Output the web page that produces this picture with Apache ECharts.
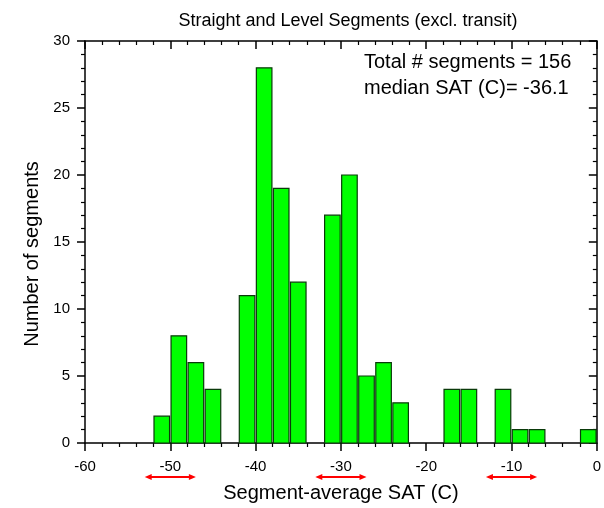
<!DOCTYPE html>
<html>
<head>
<meta charset="utf-8">
<script src="https://cdn.jsdelivr.net/npm/echarts@6/dist/echarts.min.js"></script>
<style>
  html, body { margin: 0; padding: 0; background: #fff; }
  #chart { width: 604px; height: 508px; }
</style>
</head>
<body>
<div id="chart"></div>
<script>
// Histogram of segment-average static air temperature, 2 °C bins
const binStarts = [-52, -50, -48, -46, -42, -40, -38, -36, -32, -30, -28, -26, -24, -18, -16, -12, -10, -8, -2];
const counts    = [  2,   8,   6,   4,  11,  28,  19,  12,  17,  20,   5,   6,   3,   4,   4,   4,   1,   1,  1];
const binWidth = 2;

// Temperature ranges marked with red double arrows under the axis
const arrowRanges = [[-53, -47], [-33, -27], [-13, -7]];

const xTicks = { min: -60, max: 0, step: 10 };
const yTicks = { min: 0, max: 30, step: 5 };

const titleText = 'Straight and Level Segments (excl. transit)';
const noteLines = ['Total # segments = 156', 'median SAT (C)= -36.1'];
const xName = 'Segment-average SAT (C)';
const yName = 'Number of segments';

const FONT = '"Liberation Sans", Arial, sans-serif';

const barData = binStarts.map((s, i) => [s, counts[i]]);

const chart = echarts.init(document.getElementById('chart'), null, { renderer: 'canvas' });

function axisCommon(extra) {
  return Object.assign({
    type: 'value',
    axisLine: { show: true, onZero: false, lineStyle: { color: '#000', width: 1.5 } },
    splitLine: { show: false },
    minorTick: { show: true, splitNumber: 5, length: 4, lineStyle: { color: '#000', width: 1.2 } },
    axisTick: { show: true, length: 8, lineStyle: { color: '#000', width: 1.5 } }
  }, extra);
}

chart.setOption({
  animation: false,
  backgroundColor: '#fff',
  grid: { left: 85, right: 7, top: 41, bottom: 63, containLabel: false },
  title: {
    text: titleText,
    left: 343, top: 7, textAlign: 'center',
    textStyle: { fontFamily: FONT, fontSize: 18, fontWeight: 'normal', color: '#000' }
  },
  graphic: noteLines.map((t, i) => ({
    type: 'text', left: 364, top: 52 + i * 26,
    style: { text: t, fill: '#000', font: '20px ' + FONT }
  })),
  xAxis: [
    axisCommon({
      min: xTicks.min, max: xTicks.max, interval: xTicks.step, position: 'bottom',
      name: xName, nameLocation: 'middle', nameGap: 40,
      nameTextStyle: { fontFamily: FONT, fontSize: 20, color: '#000' },
      axisTick: { show: true, inside: false, length: 8, lineStyle: { color: '#000', width: 1.5 } },
      axisLabel: { show: true, margin: 16, fontFamily: FONT, fontSize: 15, color: '#000' }
    }),
    axisCommon({
      min: xTicks.min, max: xTicks.max, interval: xTicks.step, position: 'top',
      axisTick: { show: true, inside: true, length: 8, lineStyle: { color: '#000', width: 1.5 } },
      axisLabel: { show: false }
    })
  ],
  yAxis: [
    axisCommon({
      min: yTicks.min, max: yTicks.max, interval: yTicks.step, position: 'left',
      name: yName, nameLocation: 'middle', nameGap: 43, nameRotate: 90,
      nameTextStyle: { fontFamily: FONT, fontSize: 20, color: '#000', padding: [0, 24, 0, 0] },
      axisTick: { show: true, inside: false, length: 8, lineStyle: { color: '#000', width: 1.5 } },
      axisLabel: { show: true, margin: 15, fontFamily: FONT, fontSize: 15, color: '#000' }
    }),
    axisCommon({
      min: yTicks.min, max: yTicks.max, interval: yTicks.step, position: 'right',
      axisTick: { show: true, inside: true, length: 8, lineStyle: { color: '#000', width: 1.5 } },
      axisLabel: { show: false }
    })
  ],
  series: [
    {
      type: 'custom',
      xAxisIndex: 0, yAxisIndex: 0,
      data: barData,
      renderItem: function (params, api) {
        const x0 = api.value(0), c = api.value(1);
        const p0 = api.coord([x0, c]);
        const p1 = api.coord([x0 + binWidth, 0]);
        return {
          type: 'rect',
          shape: { x: p0[0] + 0.75, y: p0[1], width: p1[0] - p0[0] - 1.5, height: p1[1] - p0[1] },
          style: { fill: '#00ff00', stroke: '#0a3a0a', lineWidth: 1.2 }
        };
      }
    },
    {
      type: 'custom',
      xAxisIndex: 0, yAxisIndex: 0,
      clip: false,
      data: arrowRanges,
      renderItem: function (params, api) {
        const a = api.coord([api.value(0), 0]);
        const b = api.coord([api.value(1), 0]);
        const y = a[1] + 34;
        const h = 7, w = 3;
        const red = '#ff0000';
        return {
          type: 'group',
          children: [
            { type: 'line', shape: { x1: a[0] + 3, y1: y, x2: b[0] - 3, y2: y }, style: { stroke: red, lineWidth: 2 } },
            { type: 'polygon', shape: { points: [[a[0], y], [a[0] + h, y - w], [a[0] + h, y + w]] }, style: { fill: red } },
            { type: 'polygon', shape: { points: [[b[0], y], [b[0] - h, y - w], [b[0] - h, y + w]] }, style: { fill: red } }
          ]
        };
      }
    }
  ]
});
</script>
</body>
</html>
